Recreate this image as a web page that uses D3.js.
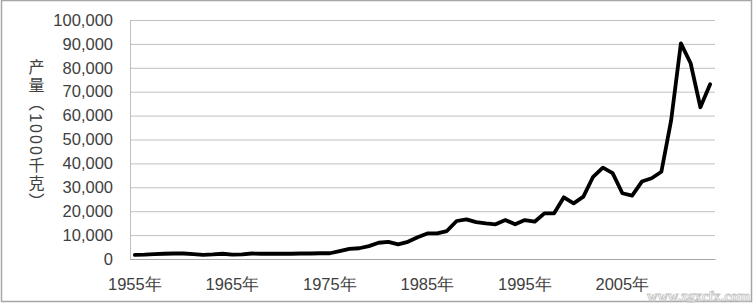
<!DOCTYPE html>
<html><head><meta charset="utf-8">
<script src="https://cdn.jsdelivr.net/npm/d3@7"></script>
<style>
html,body{margin:0;padding:0;background:#fff;}
svg{display:block;font-family:"Liberation Sans","Noto Sans CJK SC",sans-serif;}
</style></head>
<body>
<svg id="chart" width="753" height="303"></svg>
<script>
const years = [1955,1956,1957,1958,1959,1960,1961,1962,1963,1964,
  1965,1966,1967,1968,1969,1970,1971,1972,1973,1974,
  1975,1976,1977,1978,1979,1980,1981,1982,1983,1984,
  1985,1986,1987,1988,1989,1990,1991,1992,1993,1994,
  1995,1996,1997,1998,1999,2000,2001,2002,2003,2004,
  2005,2006,2007,2008,2009,2010,2011,2012,2013,2014];
const production = [1700,1800,2000,2200,2300,2300,2000,1700,1900,2200,
  1800,1900,2300,2200,2200,2200,2200,2300,2300,2400,
  2400,3300,4200,4500,5400,6800,7200,6100,7200,9100,
  10700,10700,11700,15900,16600,15400,14900,14500,16300,14500,
  16300,15600,19100,19100,25800,23300,26100,34400,38200,35900,
  27500,26500,32400,33800,36500,58000,90200,81900,63500,73100];
const xTickYears = [1955,1965,1975,1985,1995,2005];
const yTicks = [0,10000,20000,30000,40000,50000,60000,70000,80000,90000,100000];
const yTitle = "产量（1000千克）";

const svg = d3.select("#chart");
const L = 130, R = 715, T = 20, B = 259;

// outer border
svg.append("rect").attr("x",1.5).attr("y",0.5).attr("width",750).attr("height",301)
  .attr("fill","none").attr("stroke","#a6a6a6").attr("stroke-width",1.5);

const x = d3.scaleBand().domain(years).range([L,R]).padding(0);
const y = d3.scaleLinear().domain([0,100000]).range([B,T]);

// gridlines
const grid = svg.append("g").attr("transform",`translate(${L},0)`)
  .call(d3.axisLeft(y).tickValues(yTicks).tickSize(-(R-L)).tickFormat(""));
grid.select(".domain").remove();
grid.selectAll("line").attr("stroke","#bfbfbf").attr("stroke-width",1);

// y axis labels
const yAxis = svg.append("g").attr("transform",`translate(${L},0)`)
  .call(d3.axisLeft(y).tickValues(yTicks).tickSize(0).tickPadding(17).tickFormat(d3.format(",")));
yAxis.select(".domain").attr("stroke","#bfbfbf");
yAxis.selectAll("text").attr("font-size",16.5).attr("fill","#404040")
  .attr("font-family","Liberation Sans, sans-serif");

// x axis
const xAxis = svg.append("g").attr("transform",`translate(0,${B})`)
  .call(d3.axisBottom(x).tickValues(xTickYears).tickSize(0).tickFormat(d => d + "年"));
xAxis.select(".domain").attr("stroke","#a6a6a6").attr("stroke-width",1.2);
xAxis.selectAll("text").attr("y",31).attr("dy",0).attr("font-size",16.5).attr("fill","#404040");

// line
const line = d3.line().x((d,i) => x(years[i]) + x.bandwidth()/2).y(d => y(d));
svg.append("path").datum(production).attr("d",line)
  .attr("fill","none").attr("stroke","#000").attr("stroke-width",3.8)
  .attr("stroke-linejoin","round").attr("stroke-linecap","round");

// y title (vertical)
svg.append("text").attr("x",35).attr("y",135)
  .attr("text-anchor","middle")
  .style("writing-mode","vertical-rl")
  .style("letter-spacing","2px")
  .attr("font-size",16).attr("fill","#404040")
  .text(yTitle);

// watermark
svg.append("text").attr("x",750).attr("y",301).attr("text-anchor","end")
  .attr("font-family","Liberation Serif, serif").attr("font-weight","bold")
  .attr("font-size",14.5).attr("fill","#fff").attr("stroke","#c8c8c8").attr("stroke-width",0.9)
  .text("www.zgxcfx.com");
</script>
</body></html>
